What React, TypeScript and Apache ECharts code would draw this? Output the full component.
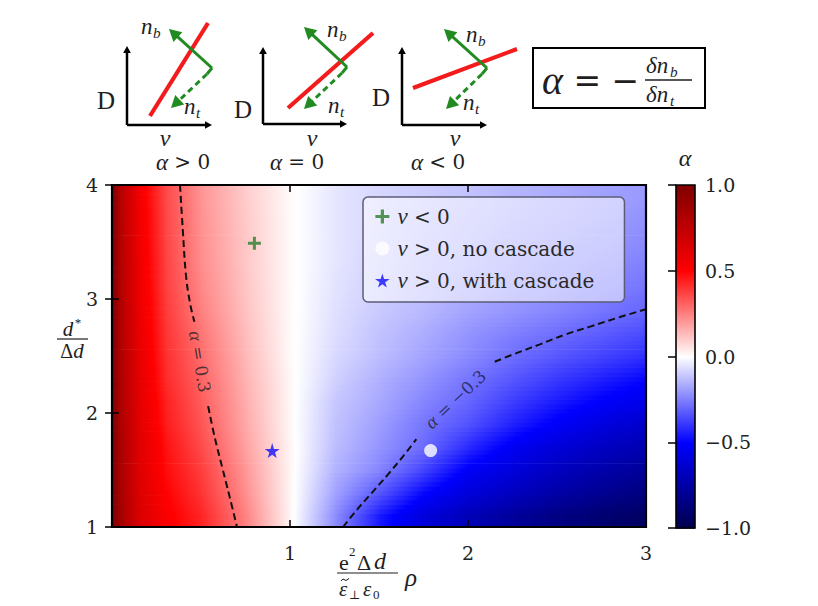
import React, { useEffect, useRef } from 'react';
import * as echarts from 'echarts';

// ---------------- data ----------------
// x positions of the field nodes (e^2 Δd / ε⊥ε0 ρ)
const xNodes = [0, 0.05, 0.15, 0.3, 0.5, 0.75, 1.0, 1.25, 1.5, 1.75, 2.0, 2.25, 2.5, 2.75, 3.0];
// row centres (d*/Δd), each row is 0.2 high
const rowCenters = [1.1, 1.3, 1.5, 1.7, 1.9, 2.1, 2.3, 2.5, 2.7, 2.9, 3.1, 3.3, 3.5, 3.7, 3.9];
// α, one row per centre (bottom to top), one value per node
const alphaRows: number[][] = [
  [1.0, 0.85, 0.65, 0.52, 0.43, 0.245, 0.02, -0.22, -0.45, -0.6, -0.7, -0.78, -0.85, -0.9, -0.94],
  [1.0, 0.84, 0.64, 0.5, 0.4, 0.22, 0.02, -0.18, -0.33, -0.49, -0.6, -0.68, -0.75, -0.81, -0.86],
  [1.0, 0.83, 0.63, 0.48, 0.38, 0.205, 0.02, -0.15, -0.24, -0.37, -0.52, -0.6, -0.68, -0.74, -0.79],
  [1.0, 0.83, 0.63, 0.47, 0.355, 0.185, 0.02, -0.13, -0.21, -0.29, -0.42, -0.53, -0.61, -0.67, -0.72],
  [1.0, 0.82, 0.62, 0.45, 0.335, 0.17, 0.015, -0.12, -0.19, -0.27, -0.34, -0.44, -0.52, -0.59, -0.65],
  [1.0, 0.82, 0.61, 0.44, 0.32, 0.16, 0.015, -0.11, -0.17, -0.24, -0.3, -0.38, -0.45, -0.51, -0.56],
  [1.0, 0.81, 0.61, 0.42, 0.305, 0.15, 0.015, -0.09, -0.155, -0.21, -0.27, -0.33, -0.39, -0.44, -0.49],
  [1.0, 0.81, 0.6, 0.41, 0.29, 0.14, 0.01, -0.075, -0.13, -0.18, -0.23, -0.285, -0.33, -0.37, -0.41],
  [1.0, 0.8, 0.59, 0.4, 0.27, 0.13, 0.01, -0.065, -0.12, -0.16, -0.21, -0.25, -0.285, -0.32, -0.355],
  [1.0, 0.8, 0.58, 0.39, 0.25, 0.12, 0.01, -0.06, -0.105, -0.14, -0.18, -0.21, -0.24, -0.27, -0.3],
  [1.0, 0.79, 0.57, 0.38, 0.235, 0.115, 0.01, -0.055, -0.095, -0.13, -0.165, -0.195, -0.22, -0.25, -0.27],
  [1.0, 0.79, 0.57, 0.375, 0.225, 0.11, 0.01, -0.05, -0.09, -0.12, -0.15, -0.18, -0.205, -0.23, -0.25],
  [1.0, 0.79, 0.56, 0.37, 0.22, 0.11, 0.01, -0.05, -0.085, -0.115, -0.14, -0.17, -0.19, -0.21, -0.23],
  [1.0, 0.78, 0.56, 0.365, 0.215, 0.105, 0.01, -0.05, -0.08, -0.11, -0.13, -0.155, -0.175, -0.195, -0.215],
  [1.0, 0.78, 0.55, 0.36, 0.21, 0.1, 0.01, -0.05, -0.08, -0.1, -0.12, -0.145, -0.165, -0.185, -0.2],
];
const rowHeight = 0.2;

// contour α = 0.3 (two pieces around its label)
const contourPlusUpper = [[0.382, 4.0], [0.398, 3.6], [0.416, 3.2], [0.44, 2.95], [0.463, 2.8]];
const contourPlusLower = [[0.54, 2.06], [0.578, 1.78], [0.618, 1.53], [0.66, 1.27], [0.702, 1.0]];
// contour α = −0.3
const contourMinusLower = [[1.298, 1.0], [1.37, 1.14], [1.46, 1.3], [1.55, 1.46], [1.635, 1.62], [1.71, 1.77]];
const contourMinusUpper = [[2.15, 2.45], [2.28, 2.53], [2.4, 2.6], [2.55, 2.69], [2.69, 2.76], [2.85, 2.84], [3.0, 2.91]];
const contourLabelPlus = [0.494, 2.45];
const contourLabelMinus = [1.93, 2.12];

// measured points
const pointsNegNu = [[0.8, 3.49]];
const pointsNoCascade = [[1.79, 1.67]];
const pointsWithCascade = [[0.9, 1.67]];
const seriesNames = ['ν < 0', 'ν > 0, no cascade', 'ν > 0, with cascade'];

// colour bar levels and ticks
const colorbarLevels = [-1, -0.5, 0, 0.5, 1];

// ---------------- helpers ----------------
const SEISMIC: [number, number[]][] = [
  [-1, [0, 0, 77]],
  [-0.5, [0, 0, 255]],
  [0, [255, 255, 255]],
  [0.5, [255, 0, 0]],
  [1, [128, 0, 0]],
];
function seismic(v: number): string {
  const c = Math.max(-1, Math.min(1, v));
  for (let i = 0; i < SEISMIC.length - 1; i++) {
    const [a, ca] = SEISMIC[i];
    const [b, cb] = SEISMIC[i + 1];
    if (c <= b) {
      const t = (c - a) / (b - a);
      const r = Math.round(ca[0] + (cb[0] - ca[0]) * t);
      const g = Math.round(ca[1] + (cb[1] - ca[1]) * t);
      const bl = Math.round(ca[2] + (cb[2] - ca[2]) * t);
      return `rgb(${r},${g},${bl})`;
    }
  }
  return 'rgb(128,0,0)';
}
function gradStops(v0: number, v1: number) {
  const stops = [{ offset: 0, color: seismic(v0) }];
  for (const b of [-0.5, 0, 0.5]) {
    if ((b - v0) * (b - v1) < 0) stops.push({ offset: (b - v0) / (v1 - v0), color: seismic(b) });
  }
  stops.push({ offset: 1, color: seismic(v1) });
  stops.sort((p, q) => p.offset - q.offset);
  return stops;
}
// value shown at a node for a sub-band of a row (smooth shading between neighbouring rows)
function shade(r: number, i: number, off: number): number {
  const v = alphaRows[r][i];
  if (off < 0 && r > 0) return v + (alphaRows[r - 1][i] - v) * (-off / rowHeight);
  if (off > 0 && r < alphaRows.length - 1) return v + (alphaRows[r + 1][i] - v) * (off / rowHeight);
  return v;
}

const CELLS = xNodes.length - 1;
const fieldData: number[][] = [];
rowCenters.forEach((yc, r) => {
  for (let i = 0; i < CELLS; i++) {
    fieldData.push([xNodes[i], xNodes[i + 1], yc - rowHeight / 2, yc + rowHeight / 2, alphaRows[r][i], alphaRows[r][i + 1]]);
  }
});
const colorbarData: number[][] = [];
for (let i = 0; i < colorbarLevels.length - 1; i++) colorbarData.push([0, 1, colorbarLevels[i], colorbarLevels[i + 1]]);

const SERIF = 'DejaVu Serif';
const MATH = 'Liberation Serif';
const INK = '#1e1e1e';
const RED = '#f21c1c';
const GREEN = '#218a21';

function txt(x: number, y: number, text: string, size: number, o: any = {}) {
  return {
    type: 'text', x, y, z: 100, silent: true,
    style: {
      text, fontSize: size, fontFamily: o.family || SERIF, fontStyle: o.italic ? 'italic' : 'normal',
      fill: o.color || INK, align: o.align || 'center', verticalAlign: 'middle', rich: o.rich,
    },
  };
}
function seg(x1: number, y1: number, x2: number, y2: number, color: string, width: number, dash?: number[]) {
  return { type: 'line', z: 100, silent: true, shape: { x1, y1, x2, y2 }, style: { stroke: color, lineWidth: width, lineDash: dash } };
}
function arrow(x1: number, y1: number, x2: number, y2: number, color: string, width: number, head: number, dash?: number[]) {
  const dx = x2 - x1, dy = y2 - y1, L = Math.hypot(dx, dy), ux = dx / L, uy = dy / L;
  const bx = x2 - ux * head, by = y2 - uy * head, nx = -uy, ny = ux, hw = head * 0.55;
  return [
    seg(x1, y1, x2 - ux * head * 0.7, y2 - uy * head * 0.7, color, width, dash),
    { type: 'polygon', z: 100, silent: true, shape: { points: [[x2, y2], [bx + nx * hw, by + ny * hw], [bx - nx * hw, by - ny * hw]] }, style: { fill: color } },
  ];
}
function subLabel(x: number, y: number, base: string, sub: string, size: number, baseW: number) {
  return [
    txt(x, y, base, size, { italic: true, family: MATH, align: 'left' }),
    txt(x + baseW, y + size * 0.3, sub, size * 0.66, { italic: true, family: MATH, align: 'left' }),
  ];
}
const capRich = {
  a: { fontFamily: MATH, fontStyle: 'italic', fontSize: 23, fill: INK },
  r: { fontFamily: SERIF, fontSize: 20, fill: INK },
};

const insets = [
  { ax: 127, ay: 125, top: 46, right: 212, d: [106, 100], nu: [165, 138], cap: [183, 162], capText: '{a|α}{r| > 0}',
    red: [150, 116, 208, 23], from: [212, 68], tip: [169, 29], corner: [207, 74], dashTip: [171, 108], nb: [141, 26], nt: [184, 106] },
  { ax: 263, ay: 124, top: 47, right: 347, d: [243, 109], nu: [312, 138], cap: [297, 162], capText: '{a|α}{r| = 0}',
    red: [288, 108, 373, 33], from: [347, 67], tip: [304, 27], corner: [342, 73], dashTip: [304, 109], nb: [327, 29], nt: [328, 105] },
  { ax: 402, ay: 125, top: 47, right: 487, d: [381, 97], nu: [455, 138], cap: [438, 162], capText: '{a|α}{r| < 0}',
    red: [413, 88, 517, 49], from: [487, 68], tip: [444, 29], corner: [482, 74], dashTip: [446, 109], nb: [466, 34], nt: [463, 102] },
];

function buildGraphics() {
  const g: any[] = [];
  insets.forEach((s) => {
    g.push(...arrow(s.ax, s.ay, s.ax, s.top, '#000', 2.5, 7));
    g.push(...arrow(s.ax, s.ay, s.right, s.ay, '#000', 2.5, 7));
    g.push(txt(s.d[0], s.d[1], 'D', 25, { family: MATH }));
    g.push(txt(s.nu[0], s.nu[1], 'ν', 24, { italic: true, family: MATH }));
    g.push(txt(s.cap[0], s.cap[1], s.capText, 20, { rich: capRich }));
    g.push(seg(s.red[0], s.red[1], s.red[2], s.red[3], RED, 4.2));
    g.push(...arrow(s.from[0], s.from[1], s.tip[0], s.tip[1], GREEN, 3, 12));
    g.push(seg(s.from[0], s.from[1], s.corner[0], s.corner[1], GREEN, 3));
    g.push(...arrow(s.corner[0], s.corner[1], s.dashTip[0], s.dashTip[1], GREEN, 3, 12, [6, 4]));
    g.push(...subLabel(s.nb[0], s.nb[1], 'n', 'b', 23, 12));
    g.push(...subLabel(s.nt[0], s.nt[1], 'n', 't', 23, 12));
  });
  // formula box
  g.push({ type: 'rect', z: 99, silent: true, shape: { x: 533, y: 48, width: 172, height: 60 }, style: { fill: '#fff', stroke: '#000', lineWidth: 2 } });
  g.push(txt(542, 80, '{a|α}{r| = −}', 32, { align: 'left', rich: {
    a: { fontFamily: MATH, fontStyle: 'italic', fontSize: 40, fill: INK },
    r: { fontFamily: SERIF, fontSize: 33, fill: INK },
  } }));
  g.push(...subLabel(646, 65, 'δn', 'b', 23, 24));
  g.push(seg(645, 80, 692, 80, INK, 1.3));
  g.push(...subLabel(646, 94, 'δn', 't', 23, 24));
  // colour bar title
  g.push(txt(685, 158, 'α', 24, { italic: true, family: MATH }));
  // y axis title  d*/Δd
  g.push(txt(68, 329, 'd', 21, { italic: true, family: MATH }));
  g.push(txt(78, 322, '*', 13, { family: MATH }));
  g.push(seg(57, 339, 88, 339, INK, 1.2));
  g.push(txt(72, 351, '{r|Δ}{a|d}', 20, { rich: {
    r: { fontFamily: MATH, fontSize: 20, fill: INK },
    a: { fontFamily: MATH, fontStyle: 'italic', fontSize: 21, fill: INK },
  } }));
  // x axis title  e²Δd / ε̃⊥ε0 ρ
  g.push(txt(339, 562, 'e', 22, { family: MATH, align: 'left' }));
  g.push(txt(349, 551, '2', 13, { family: MATH, align: 'left' }));
  g.push(txt(357, 562, 'Δ', 22, { family: MATH, align: 'left' }));
  g.push(txt(374, 561, 'd', 24, { family: MATH, italic: true, align: 'left' }));
  g.push(seg(337, 573, 398, 573, INK, 1.2));
  g.push(txt(339, 589, 'ε', 21, { family: MATH, italic: true, align: 'left' }));
  g.push({ type: 'polyline', z: 100, silent: true, shape: { points: [[341, 581], [343, 579], [346, 580.5], [349, 578.5]] }, style: { stroke: INK, lineWidth: 1, fill: null } });
  g.push(txt(349, 595, '⊥', 12, { family: SERIF, align: 'left' }));
  g.push(txt(363, 589, 'ε', 21, { family: MATH, italic: true, align: 'left' }));
  g.push(txt(373, 594, '0', 13, { family: MATH, align: 'left' }));
  g.push(txt(411, 577, 'ρ', 25, { family: MATH, italic: true }));
  return g;
}

const PLUS = 'path://M5,0H8V5H13V8H8V13H5V8H0V5H5Z';
const STAR = 'path://M50,0L61,35L98,35L68,57L79,91L50,70L21,91L32,57L2,35L39,35Z';
const SUB_BANDS = 5;

function buildOption() {
  const tickStyle = { color: '#000', width: 1.5 };
  const labelStyle = { fontSize: 19, color: '#222', fontFamily: SERIF };
  const lineBase = { type: 'line', xAxisIndex: 0, yAxisIndex: 0, symbol: 'none', smooth: 0.4, silent: true, z: 4,
    lineStyle: { color: '#111', width: 2, type: [7, 4] } };
  return {
    animation: false,
    backgroundColor: '#ffffff',
    textStyle: { fontFamily: SERIF },
    grid: [
      { left: 112, top: 185, width: 534, height: 342, show: true, borderColor: '#000', borderWidth: 2.2, backgroundColor: 'transparent', z: 10 },
      { left: 676, top: 185, width: 19, height: 343, show: true, borderColor: '#000', borderWidth: 1.6, backgroundColor: 'transparent', z: 10 },
    ],
    xAxis: [
      { gridIndex: 0, type: 'value', min: 0, max: 3, interval: 1, position: 'bottom', z: 10,
        axisLine: { show: false }, axisTick: { inside: true, length: 7, lineStyle: tickStyle },
        axisLabel: { ...labelStyle, margin: 16, showMinLabel: false }, splitLine: { show: false } },
      { gridIndex: 0, type: 'value', min: 0, max: 3, interval: 1, position: 'top', z: 10,
        axisLine: { show: false }, axisTick: { inside: true, length: 7, lineStyle: tickStyle },
        axisLabel: { show: false }, splitLine: { show: false } },
      { gridIndex: 1, type: 'value', min: 0, max: 1, show: false },
    ],
    yAxis: [
      { gridIndex: 0, type: 'value', min: 1, max: 4, interval: 1, position: 'left', z: 10,
        axisLine: { show: false }, axisTick: { inside: true, length: 7, lineStyle: tickStyle },
        axisLabel: { ...labelStyle, margin: 14 }, splitLine: { show: false } },
      { gridIndex: 0, type: 'value', min: 1, max: 4, interval: 1, position: 'right', z: 10,
        axisLine: { show: false }, axisTick: { inside: true, length: 7, lineStyle: tickStyle },
        axisLabel: { show: false }, splitLine: { show: false } },
      { gridIndex: 1, type: 'value', min: -1, max: 1, interval: 0.5, position: 'right', z: 10,
        axisLine: { show: false }, axisTick: { inside: true, length: 8, lineStyle: tickStyle },
        axisLabel: { ...labelStyle, margin: 10, formatter: (v: number) => (v < 0 ? '−' + Math.abs(v).toFixed(1) : v.toFixed(1)) },
        splitLine: { show: false } },
    ],
    legend: {
      show: true, orient: 'vertical', left: 363, top: 197, z: 20,
      data: seriesNames, selectedMode: false,
      itemWidth: 20, itemHeight: 14, itemGap: 9,
      padding: [8, 30, 10, 12],
      backgroundColor: 'rgba(255,255,255,0.55)', borderColor: '#5c5c78', borderWidth: 1.5, borderRadius: 5,
      formatter: (name: string) => name.replace('ν', '{i|ν}'),
      textStyle: { fontFamily: SERIF, fontSize: 20, color: '#2a2a2a', lineHeight: 20,
        rich: { i: { fontFamily: MATH, fontStyle: 'italic', fontSize: 23, color: '#2a2a2a', lineHeight: 20 } } },
    },
    graphic: buildGraphics(),
    series: [
      {
        type: 'custom', xAxisIndex: 0, yAxisIndex: 0, silent: true, z: 1,
        encode: { x: [0, 1], y: [2, 3] },
        data: fieldData,
        renderItem: (params: any, api: any) => {
          const r = Math.floor(params.dataIndex / CELLS);
          const i = params.dataIndex % CELLS;
          const x0 = api.value(0), x1 = api.value(1), y0 = api.value(2);
          const children: any[] = [];
          for (let k = 0; k < SUB_BANDS; k++) {
            const ya = y0 + (k * rowHeight) / SUB_BANDS;
            const yb = y0 + ((k + 1) * rowHeight) / SUB_BANDS;
            const off = (ya + yb) / 2 - rowCenters[r];
            const a = api.coord([x0, yb]);
            const b = api.coord([x1, ya]);
            children.push({
              type: 'rect',
              shape: { x: a[0], y: a[1], width: b[0] - a[0] + 0.7, height: b[1] - a[1] + 0.7 },
              style: { fill: { type: 'linear', x: 0, y: 0, x2: 1, y2: 0, colorStops: gradStops(shade(r, i, off), shade(r, i + 1, off)) } },
            });
          }
          return { type: 'group', children };
        },
      },
      {
        type: 'custom', xAxisIndex: 2, yAxisIndex: 2, silent: true, z: 1,
        encode: { x: [0, 1], y: [2, 3] },
        data: colorbarData,
        renderItem: (_p: any, api: any) => {
          const a = api.coord([api.value(0), api.value(3)]);
          const b = api.coord([api.value(1), api.value(2)]);
          return {
            type: 'rect',
            shape: { x: a[0], y: a[1], width: b[0] - a[0], height: b[1] - a[1] + 0.7 },
            style: { fill: { type: 'linear', x: 0, y: 0, x2: 0, y2: 1, colorStops: gradStops(api.value(3), api.value(2)) } },
          };
        },
      },
      { ...lineBase, data: contourPlusUpper },
      { ...lineBase, data: contourPlusLower },
      { ...lineBase, data: contourMinusLower },
      { ...lineBase, data: contourMinusUpper },
      {
        type: 'scatter', xAxisIndex: 0, yAxisIndex: 0, silent: true, z: 6, symbolSize: 1,
        itemStyle: { color: 'rgba(0,0,0,0)' },
        label: { show: true, position: 'inside', fontSize: 17, fontFamily: SERIF, color: '#222',
          rich: { i: { fontFamily: MATH, fontStyle: 'italic', fontSize: 19, color: '#222' } } },
        data: [
          { value: contourLabelPlus, label: { rotate: -81, formatter: '{i|α} = 0.3' } },
          { value: contourLabelMinus, label: { rotate: 43, formatter: '{i|α} = −0.3', color: '#1c1c40' } },
        ],
      },
      { name: seriesNames[0], type: 'scatter', xAxisIndex: 0, yAxisIndex: 0, z: 7, symbol: PLUS, symbolSize: 13,
        itemStyle: { color: '#2b7d2b' }, data: pointsNegNu },
      { name: seriesNames[1], type: 'scatter', xAxisIndex: 0, yAxisIndex: 0, z: 7, symbol: 'circle', symbolSize: 13,
        itemStyle: { color: '#ffffff' }, data: pointsNoCascade },
      { name: seriesNames[2], type: 'scatter', xAxisIndex: 0, yAxisIndex: 0, z: 7, symbol: STAR, symbolSize: 15,
        itemStyle: { color: '#1010ff' }, data: pointsWithCascade },
    ],
  };
}

export default function App() {
  const ref = useRef<HTMLDivElement>(null);
  useEffect(() => {
    if (!ref.current) return;
    const chart = echarts.init(ref.current, null, { renderer: 'svg' });
    chart.setOption(buildOption() as any);
    return () => chart.dispose();
  }, []);
  return <div ref={ref} style={{ position: 'absolute', left: 0, top: 0, width: 818, height: 606 }} />;
}
